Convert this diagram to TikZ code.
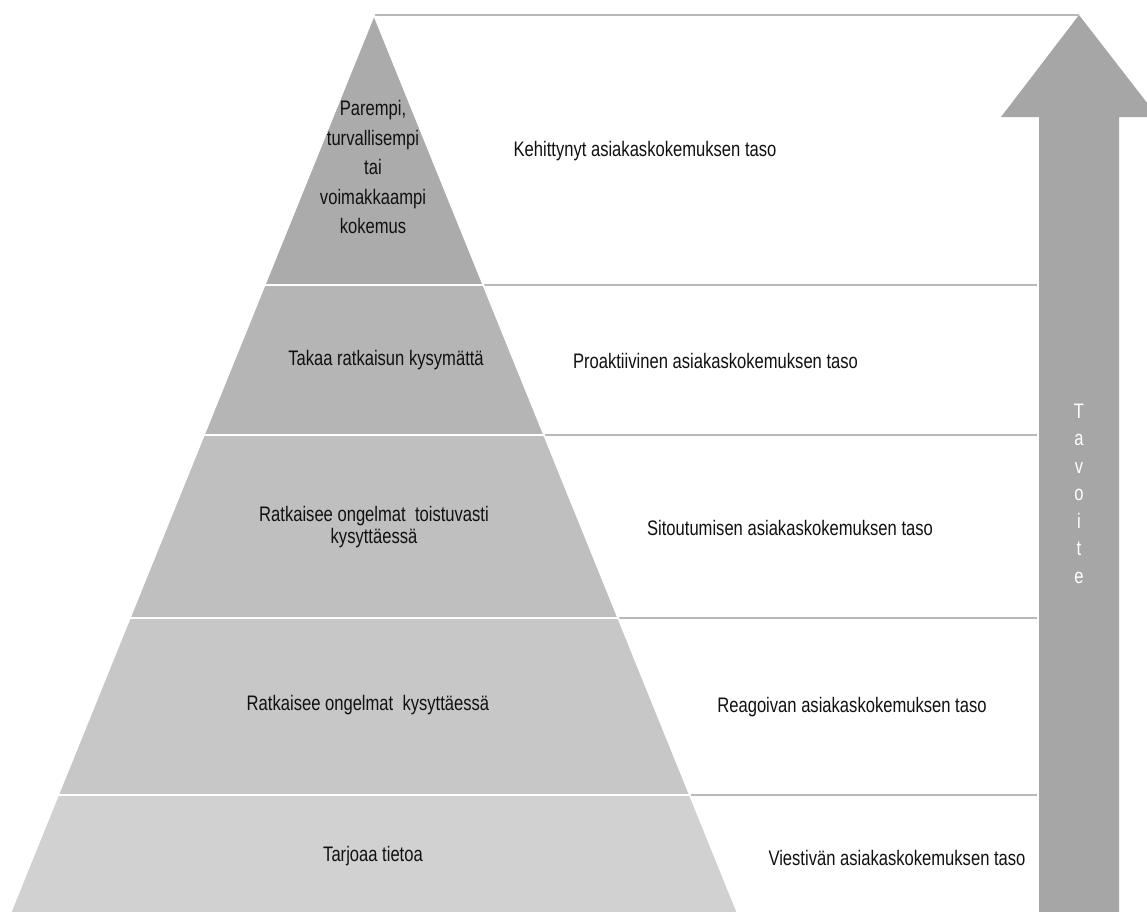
\documentclass[tikz,border=0pt]{standalone}
\usepackage{fontspec}
\setmainfont{Liberation Sans}[FakeStretch=0.79]
\definecolor{gA}{HTML}{ABABAB}
\definecolor{gB}{HTML}{B5B5B5}
\definecolor{gC}{HTML}{BFBFBF}
\definecolor{gD}{HTML}{C7C7C7}
\definecolor{gE}{HTML}{D1D1D1}
\definecolor{arrowg}{HTML}{A6A6A6}
\definecolor{ruleg}{HTML}{B8B8B8}
\definecolor{txt}{HTML}{111111}
\begin{document}
\begin{tikzpicture}[x=1pt,y=-1pt,
  layer/.style={draw=white,line width=1.6pt,line join=miter},
  rulel/.style={draw=ruleg,line width=1.8pt},
  lbl/.style={font=\fontsize{21}{22}\selectfont,text=txt,inner sep=0pt,align=center},
  tav/.style={font=\fontsize{21}{22}\selectfont,text=white,inner sep=0pt},
]
\useasboundingbox (0,0) rectangle (1147,911);
\clip (0,0) rectangle (1147,911);
\fill[white] (0,0) rectangle (1147,911);

% pyramid corners (left/right edge at each level)
\coordinate (apex) at (374,15);
\coordinate (l1) at (264.65,285);  \coordinate (r1) at (483.35,285);
\coordinate (l2) at (203.9,435);   \coordinate (r2) at (544.1,435);
\coordinate (l3) at (129.8,618);   \coordinate (r3) at (618.2,618);
\coordinate (l4) at (58.1,795);    \coordinate (r4) at (689.9,795);
\coordinate (l5) at (9.5,915);     \coordinate (r5) at (738.5,915);

% arrow
\coordinate (tip) at (1079,15);
\fill[arrowg] (tip) -- (1158,117) -- (1119,117) -- (1119,915)
  -- (1039,915) -- (1039,117) -- (1001,117) -- cycle;

% level rules
\coordinate (s1) at (1037,285);
\coordinate (s2) at (1037,435);
\coordinate (s3) at (1037,618);
\coordinate (s4) at (1037,795);
\draw[rulel] (apex) -- (tip);
\draw[rulel] (r1) -- (s1);
\draw[rulel] (r2) -- (s2);
\draw[rulel] (r3) -- (s3);
\draw[rulel] (r4) -- (s4);

% pyramid layers
\path[layer,fill=gA] (apex) -- (r1) -- (l1) -- cycle;
\path[layer,fill=gB] (l1) -- (r1) -- (r2) -- (l2) -- cycle;
\path[layer,fill=gC] (l2) -- (r2) -- (r3) -- (l3) -- cycle;
\path[layer,fill=gD] (l3) -- (r3) -- (r4) -- (l4) -- cycle;
\path[layer,fill=gE] (l4) -- (r4) -- (r5) -- (l5) -- cycle;

% labels inside the pyramid
\node[lbl,font=\fontsize{21}{29.5}\selectfont] (p1) at (373,167)
  {Parempi,\\turvallisempi\\tai\\voimakkaampi\\kokemus};
\node[lbl] (p2) at (386,360) {Takaa ratkaisun kysymättä};
\node[lbl] (p3) at (374,527) {Ratkaisee ongelmat\ \ toistuvasti\\kysyttäessä};
\node[lbl] (p4) at (368,705) {Ratkaisee ongelmat\ \ kysyttäessä};
\node[lbl] (p5) at (373,856) {Tarjoaa tietoa};

% level names
\node[lbl] (t1) at (645,151) {Kehittynyt asiakaskokemuksen taso};
\node[lbl] (t2) at (715.5,361) {Proaktiivinen asiakaskokemuksen taso};
\node[lbl] (t3) at (790,528) {Sitoutumisen asiakaskokemuksen taso};
\node[lbl] (t4) at (852,707) {Reagoivan asiakaskokemuksen taso};
\node[lbl] (t5) at (897,858) {Viestivän asiakaskokemuksen taso};

% vertical word on the arrow
\foreach \ch [count=\i from 0] in {T,a,v,o,i,t,e}
  \node[tav,anchor=base] (tav\i) at (1079,{418+27.5*\i}) {\ch};
\end{tikzpicture}
\end{document}
